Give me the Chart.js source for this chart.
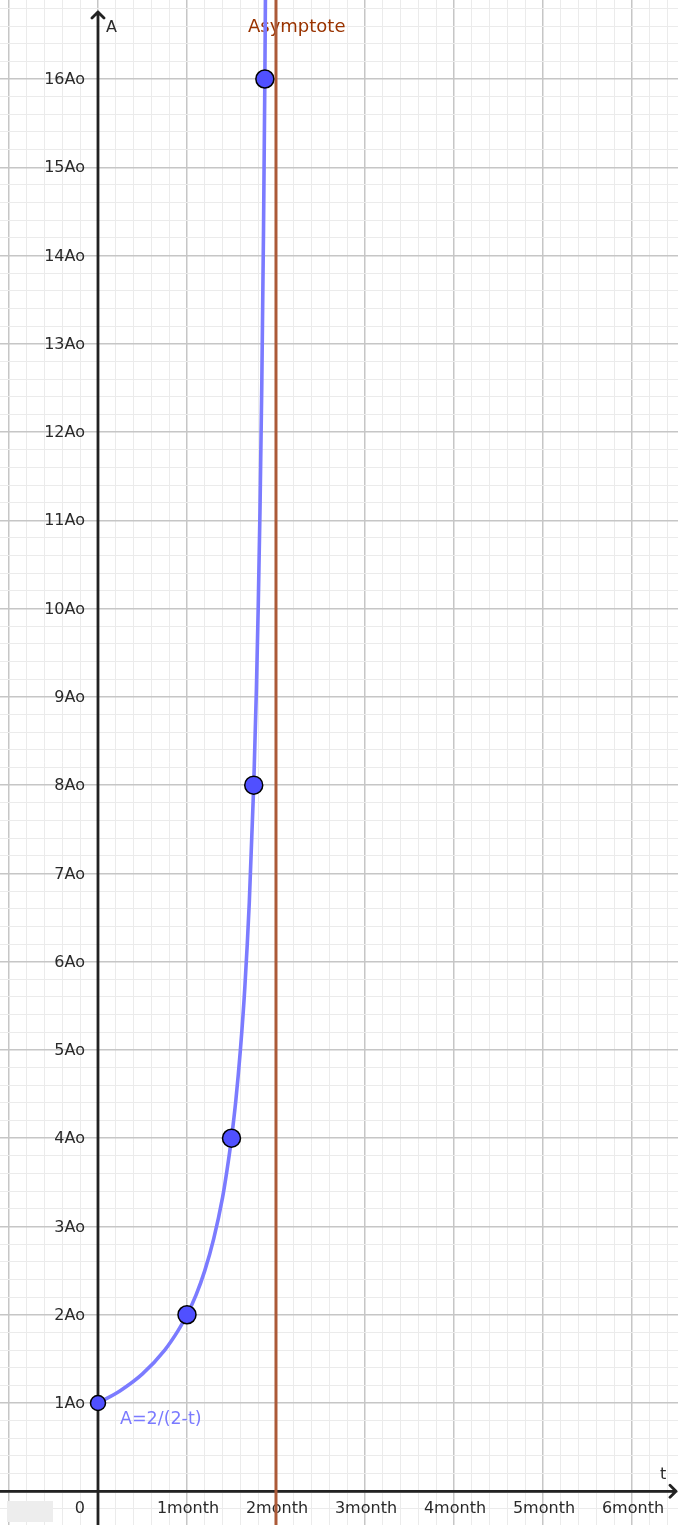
<!DOCTYPE html>
<html>
<head>
<meta charset="utf-8">
<script src="https://cdn.jsdelivr.net/npm/chart.js@4/dist/chart.umd.min.js"></script>
<style>
  html, body { margin: 0; padding: 0; background: #fff; }
  #wrap { width: 678px; height: 1525px; position: relative; }
</style>
</head>
<body>
<div id="wrap"><canvas id="chart"></canvas></div>
<script>
// visible window, in data units (t in months, A in Ao)
const tRange = [-1.101, 6.517];
const aRange = [-0.382, 16.895];

// axis tick labels
const monthTicks = [1, 2, 3, 4, 5, 6];
const monthLabels = ['1month', '2month', '3month', '4month', '5month', '6month'];
const aTicks = [1, 2, 3, 4, 5, 6, 7, 8, 9, 10, 11, 12, 13, 14, 15, 16];
const aLabels = ['1Ao', '2Ao', '3Ao', '4Ao', '5Ao', '6Ao', '7Ao', '8Ao', '9Ao', '10Ao',
  '11Ao', '12Ao', '13Ao', '14Ao', '15Ao', '16Ao'];

// curve A=2/(2-t), values
const curveT = [0, 0.25, 0.5, 0.75, 0.9, 1, 1.1, 1.2, 1.3, 1.4, 1.45, 1.5, 1.55, 1.6, 1.65,
  1.7, 1.75, 1.78, 1.8, 1.82, 1.84, 1.86, 1.875, 1.89];
const curveA = [1, 1.14, 1.33, 1.6, 1.82, 2, 2.22, 2.5, 2.86, 3.33, 3.64, 4, 4.44, 5, 5.71,
  6.67, 8, 9.09, 10, 11.1, 12.5, 14.3, 16, 18.2];

// marked points on the curve
const pointT = [0, 1, 1.5, 1.75, 1.875];
const pointA = [1, 2, 4, 8, 16];

// vertical asymptote
const asymptoteT = 2;

const FONT = '"DejaVu Sans", sans-serif';

function isMajor(v) {
  return Math.abs(v - Math.round(v)) < 1e-6;
}

const axesPlugin = {
  id: 'axes',
  beforeDatasetsDraw(chart) {
    const { ctx, scales: { x, y }, chartArea: ca } = chart;
    const x0 = x.getPixelForValue(0);
    const y0 = y.getPixelForValue(0);
    ctx.save();

    // little grey box at bottom left (hidden label)
    const bx1 = x.getPixelForValue(-1.022), bx2 = x.getPixelForValue(-0.506);
    const by1 = y.getPixelForValue(-0.11), by2 = y.getPixelForValue(-0.348);
    ctx.fillStyle = '#ededed';
    ctx.fillRect(bx1, by1, bx2 - bx1, by2 - by1);

    ctx.strokeStyle = '#222';
    ctx.lineWidth = 2.8;
    ctx.lineCap = 'round';
    ctx.lineJoin = 'round';

    // y axis with arrow
    const topTip = ca.top + 12;
    ctx.beginPath();
    ctx.moveTo(x0, ca.bottom);
    ctx.lineTo(x0, topTip);
    ctx.moveTo(x0 - 6, topTip + 6);
    ctx.lineTo(x0, topTip);
    ctx.lineTo(x0 + 6, topTip + 6);
    ctx.stroke();

    // x axis with arrow
    const rightTip = ca.right - 2;
    ctx.beginPath();
    ctx.moveTo(ca.left, y0);
    ctx.lineTo(rightTip, y0);
    ctx.moveTo(rightTip - 6, y0 - 6);
    ctx.lineTo(rightTip, y0);
    ctx.lineTo(rightTip - 6, y0 + 6);
    ctx.stroke();

    // tick labels
    ctx.fillStyle = '#2a2a2a';
    ctx.font = '16px ' + FONT;
    ctx.textBaseline = 'middle';
    ctx.textAlign = 'right';
    aTicks.forEach((v, i) => {
      ctx.fillText(aLabels[i], x0 - 13, y.getPixelForValue(v) + 1);
    });
    ctx.fillText('0', x0 - 13, y0 + 18);

    ctx.textAlign = 'center';
    monthTicks.forEach((v, i) => {
      ctx.fillText(monthLabels[i], x.getPixelForValue(v) + 1, y0 + 18);
    });

    // axis names
    ctx.textAlign = 'left';
    ctx.fillText('A', x0 + 8, ca.top + 28);
    ctx.fillText('t', ca.right - 18, y0 - 16);

    // asymptote label
    ctx.fillStyle = '#993300';
    ctx.font = '18px ' + FONT;
    ctx.fillText('Asymptote', x.getPixelForValue(asymptoteT) - 28, ca.top + 27);

    // curve label
    ctx.fillStyle = '#7b7bff';
    ctx.font = '17.5px ' + FONT;
    ctx.fillText('A=2/(2-t)', x0 + 22, y.getPixelForValue(1) + 16);

    ctx.restore();
  }
};

const gridOpts = {
  drawTicks: false,
  color: (c) => (c.tick && isMajor(c.tick.value)) ? '#c6c6c6' : '#ebebeb',
  lineWidth: (c) => (c.tick && isMajor(c.tick.value)) ? 1.5 : 1
};

new Chart(document.getElementById('chart'), {
  type: 'scatter',
  data: {
    datasets: [
      {
        label: 'points',
        data: pointT.map((t, i) => ({ x: t, y: pointA[i] })),
        backgroundColor: '#5050ff',
        borderColor: '#000',
        borderWidth: 1.5,
        pointRadius: pointT.map((t, i) => i === 0 ? 7.5 : 9),
        showLine: false,
        order: 0
      },
      {
        label: 'A=2/(2-t)',
        data: curveT.map((t, i) => ({ x: t, y: curveA[i] })),
        borderColor: '#7b7bff',
        borderWidth: 3.6,
        pointRadius: 0,
        showLine: true,
        cubicInterpolationMode: 'monotone',
        order: 1
      },
      {
        label: 'Asymptote',
        data: [{ x: asymptoteT, y: aRange[0] - 1 }, { x: asymptoteT, y: aRange[1] + 1 }],
        borderColor: '#ac5a38',
        borderWidth: 3,
        pointRadius: 0,
        showLine: true,
        order: 2
      }
    ]
  },
  options: {
    responsive: true,
    maintainAspectRatio: false,
    animation: false,
    layout: { padding: 0, autoPadding: false },
    plugins: {
      legend: { display: false },
      tooltip: { enabled: false }
    },
    scales: {
      x: {
        type: 'linear',
        min: tRange[0],
        max: tRange[1],
        border: { display: false },
        ticks: { display: false, stepSize: 0.2, autoSkip: false, includeBounds: false },
        grid: gridOpts
      },
      y: {
        type: 'linear',
        min: aRange[0],
        max: aRange[1],
        border: { display: false },
        ticks: { display: false, stepSize: 0.2, autoSkip: false, includeBounds: false },
        grid: gridOpts
      }
    }
  },
  plugins: [axesPlugin]
});
</script>
</body>
</html>
